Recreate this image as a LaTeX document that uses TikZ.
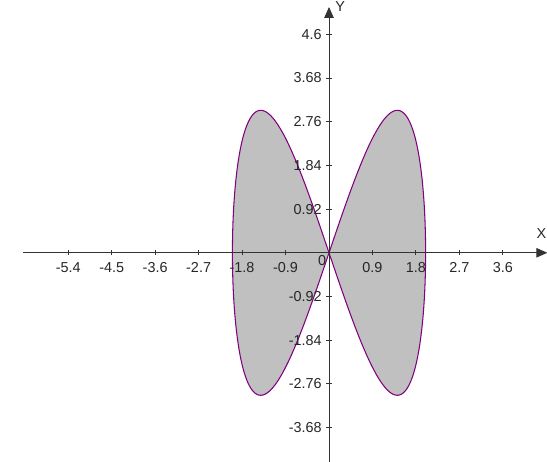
\documentclass[tikz,border=0pt]{standalone}
\usepackage{fontspec}
\setmainfont{Liberation Sans}
\usepackage{xcolor}
\usetikzlibrary{arrows.meta}
\definecolor{lobeline}{RGB}{128,0,128}
\definecolor{lobefill}{RGB}{192,192,192}

\begin{document}
\begin{tikzpicture}[
  x=0.966cm,y=0.95cm,
  axis/.style={draw=black!80,line width=0.55pt,-{Triangle[length=2.2mm,width=1.9mm]}},
  tickmark/.style={draw=black!80,line width=0.55pt},
  lobe/.style={draw=lobeline,line width=0.6pt,fill=lobefill},
  lab/.style={font=\fontsize{8.2}{9}\selectfont,text=black!85,inner sep=0pt},
  xlab/.style={lab,anchor=base,yshift=-0.40cm},
  ylab/.style={lab,anchor=east,xshift=-0.14cm}
]
\useasboundingbox (-6.812,-4.404) rectangle (4.513,5.322);
% the two lobes
\filldraw[lobe] plot[domain=0:360,samples=241,smooth,variable=\t] ({2*sin(\t)},{3*sin(2*\t)});
% axes
\coordinate (xstart) at (-6.335,0);
\coordinate (xend) at (4.52,0);
\coordinate (ybot) at (0,-4.42);
\coordinate (ytop) at (0,5.175);
\draw[axis] (xstart) -- (xend);
\draw[axis] (ybot) -- (ytop);
\node[lab,anchor=west] (ylabel) at ([xshift=0.12cm]ytop) {Y};
\node[lab,anchor=east] (xlabel) at ([xshift=-0.01cm]4.513,0.396) {X};
\foreach \v in {-5.4,-4.5,-3.6,-2.7,-1.8,-0.9,0.9,1.8,2.7,3.6}
  \draw[tickmark] ([yshift=-0.05cm]\v,0) -- ([yshift=0.05cm]\v,0);
\foreach \v in {-3.68,-2.76,-1.84,-0.92,0.92,1.84,2.76,3.68,4.6}
  \draw[tickmark] ([xshift=-0.06cm]0,\v) -- ([xshift=0.06cm]0,\v);
% tick labels
\node[xlab] (xm54) at (-5.4,0) {-5.4};
\node[xlab] (xm45) at (-4.5,0) {-4.5};
\node[xlab] (xm36) at (-3.6,0) {-3.6};
\node[xlab] (xm27) at (-2.7,0) {-2.7};
\node[xlab] (xm18) at (-1.8,0) {-1.8};
\node[xlab] (xm09) at (-0.9,0) {-0.9};
\node[lab] (zero) at ([xshift=-0.14cm,yshift=-0.155cm]0,0) {0};
\node[xlab] (xp09) at (0.9,0) {0.9};
\node[xlab] (xp18) at (1.8,0) {1.8};
\node[xlab] (xp27) at (2.7,0) {2.7};
\node[xlab] (xp36) at (3.6,0) {3.6};
\node[ylab] (yp46) at (0,4.6) {4.6};
\node[ylab] (yp368) at (0,3.68) {3.68};
\node[ylab] (yp276) at (0,2.76) {2.76};
\node[ylab] (yp184) at (0,1.84) {1.84};
\node[ylab] (yp092) at (0,0.92) {0.92};
\node[ylab] (ym092) at (0,-0.92) {-0.92};
\node[ylab] (ym184) at (0,-1.84) {-1.84};
\node[ylab] (ym276) at (0,-2.76) {-2.76};
\node[ylab] (ym368) at (0,-3.68) {-3.68};
\end{tikzpicture}
\end{document}
